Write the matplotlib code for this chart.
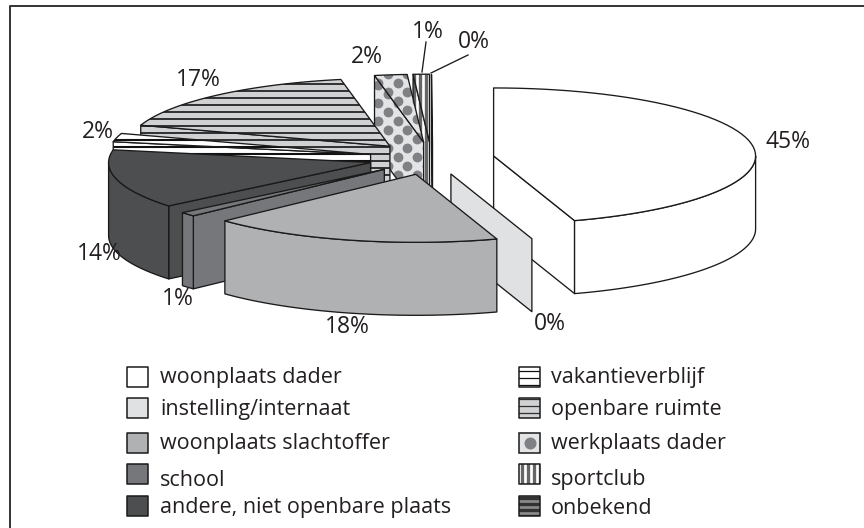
"""Exploded 3D pie: locations of incidents, drawn in pixel space of an 864x528 figure."""

import numpy as np
import matplotlib
matplotlib.use("Agg")
import matplotlib.pyplot as plt
from matplotlib.patches import Polygon, Rectangle

plt.rcParams["font.family"] = ["Open Sans", "DejaVu Sans"]

categories = ["woonplaats dader", "instelling/internaat", "woonplaats slachtoffer",
              "school", "andere, niet openbare plaats", "vakantieverblijf",
              "openbare ruimte", "werkplaats dader", "sportclub", "onbekend"]
values = [45, 0, 18, 1, 14, 2, 17, 2, 1, 0]

label_x = [788, 550, 347, 178, 99, 98, 198, 367, 428, 474]
label_y = [142, 324, 327, 299, 254, 132, 80, 57, 32, 42]

CX, CY, RX, RY, H, EXPLODE = 431.5, 158.5, 262, 68, 73, 0.24
EDGE = "#1a1a1a"
LW = 0.95
INK = "#231f20"

styles = [
    dict(face="white"),
    dict(face="#e0e1e3"),
    dict(face="#b0b1b3"),
    dict(face="#76777a"),
    dict(face="#4d4e50"),
    dict(face="white", stripes="h", gap=7, line="#111111", lw=1.5),
    dict(face="#d0d1d3", stripes="h", gap=7, line="#303030", lw=1.4),
    dict(face="#e3e4e6", dots=True),
    dict(face="white", stripes="v", gap=6, line="#666666", lw=2.4),
    dict(face="#8a8b8d", stripes="h", gap=6, line="#333333", lw=2.4),
]


def fill(ax, pts, st, z, lw=LW):
    """Polygon with its fill pattern clipped to it, outline on top."""
    poly = Polygon(pts, closed=True, fc=st["face"], ec="none", zorder=z)
    ax.add_patch(poly)
    pts = np.asarray(pts)
    x0, x1, y0, y1 = pts[:, 0].min(), pts[:, 0].max(), pts[:, 1].min(), pts[:, 1].max()
    drawn = []
    if st.get("stripes") == "h":
        for y in np.arange(np.floor(y0 / st["gap"]) * st["gap"], y1 + 1, st["gap"]):
            drawn += ax.plot([x0, x1], [y, y], c=st["line"], lw=st["lw"], zorder=z)
    elif st.get("stripes") == "v":
        for x in np.arange(np.floor(x0 / st["gap"]) * st["gap"], x1 + 1, st["gap"]):
            drawn += ax.plot([x, x], [y0, y1], c=st["line"], lw=st["lw"], zorder=z)
    elif st.get("dots"):
        col = np.arange(np.floor(x0 / 9.7) - 1, x1 / 9.7 + 1)
        xs, ys = [], []
        for c in col:
            row = np.arange(y0 - 18, y1 + 18, 18) + (c % 2) * 9
            xs += [c * 9.7] * len(row)
            ys += list(row)
        drawn.append(ax.scatter(xs, ys, s=50, c="#808184", lw=0, zorder=z))
    for d in drawn:
        d.set_clip_path(poly)
    ax.add_patch(Polygon(pts, closed=True, fc="none", ec=EDGE, lw=lw, zorder=z, joinstyle="round"))


def arc(a, b, ax0, ay0, n=60):
    t = np.radians(np.linspace(a, b, n))
    return np.column_stack([ax0 + RX * np.sin(t), ay0 - RY * np.cos(t)])


def draw_slice(ax, a, b, st, z):
    mid = np.radians((a + b) / 2)
    ox = CX + EXPLODE * RX * np.sin(mid)
    oy = CY - EXPLODE * RY * np.cos(mid)
    apex = np.array([[ox, oy]])
    drop = np.array([0, H])

    # radial walls facing the viewer, then the rim, then the top
    for ang, seen in ((a, np.sin(np.radians(a)) < 1e-6), (b, np.sin(np.radians(b)) > 1e-6)):
        if seen:
            p = arc(ang, ang, ox, oy, 1)
            fill(ax, np.vstack([apex, p, p + drop, apex + drop]), st, z)
    lo, hi = max(a, 90), min(b, 270)
    if hi > lo:
        rim = arc(lo, hi, ox, oy)
        fill(ax, np.vstack([rim, (rim + drop)[::-1]]), st, z)
    if b > a:
        fill(ax, np.vstack([apex, arc(a, b, ox, oy)]), st, z)
    return oy


fig = plt.figure(figsize=(8.64, 5.28), dpi=100)
ax = fig.add_axes([0, 0, 1, 1])
ax.set_xlim(0, 864)
ax.set_ylim(528, 0)
ax.axis("off")

# frame
ax.plot([9.5, 9.5, 864], [528, 5.5, 5.5], c="#333333", lw=1.4, zorder=0.5)

# back-to-front: further apexes first
edges = np.cumsum([0] + values) * 3.6
depth = [CY - EXPLODE * RY * np.cos(np.radians((edges[i] + edges[i + 1]) / 2))
         for i in range(len(values))]
for z, i in enumerate(sorted(range(len(values)), key=lambda k: (depth[k], -k))):
    draw_slice(ax, edges[i], edges[i + 1], styles[i], 2 + z)

for v, x, y in zip(values, label_x, label_y):
    ax.text(x, y, f"{v}%", fontsize=16.5, color=INK, ha="center", va="center", zorder=40)

# leader lines for the two smallest top slices
ax.plot([426, 422], [42, 72], c=EDGE, lw=LW, zorder=40)
ax.plot([468, 431], [55, 73], c=EDGE, lw=LW, zorder=40)

# legend
box_x = [127] * 5 + [519] * 5
box_y = [377, 408, 443, 474, 506] * 2
text_x = [160] * 5 + [551] * 5
text_y = [378, 409, 443, 480, 507, 378, 410, 444, 480, 508]
for i, name in enumerate(categories):
    w = 21
    pts = [(box_x[i], box_y[i] - 10), (box_x[i] + w, box_y[i] - 10),
           (box_x[i] + w, box_y[i] + 10), (box_x[i], box_y[i] + 10)]
    st = dict(styles[i])
    if st.get("stripes") and i < 8:
        st["lw"] = 0.9  # legend swatches use finer rules than the slices
    if st.get("dots"):
        ax.add_patch(Rectangle((box_x[i], box_y[i] - 10), w, 20, fc="#e3e4e6", ec=EDGE, lw=1.1, zorder=30))
        ax.scatter([box_x[i] + w / 2], [box_y[i]], s=75, c="#808184", lw=0, zorder=31)
    else:
        fill(ax, pts, st, 30, lw=1.1)
    ax.text(text_x[i], text_y[i], name, fontsize=15.5, color=INK, ha="left", va="center", zorder=40)

fig.savefig("out.png", dpi=100, facecolor="white")
